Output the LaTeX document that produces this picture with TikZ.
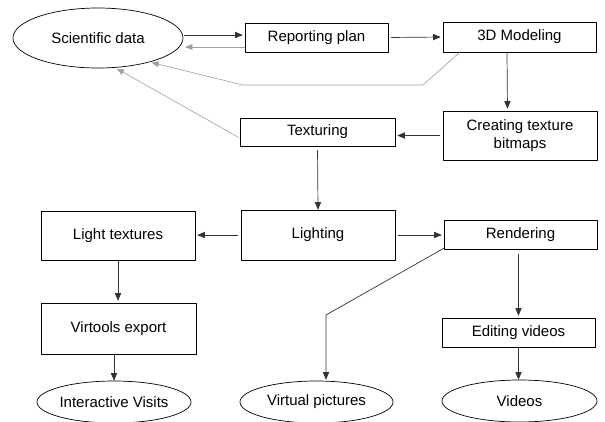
\documentclass[tikz,border=0pt]{standalone}
\usepackage{fontspec}
\setmainfont{Liberation Sans}
\usetikzlibrary{arrows}
\usetikzlibrary{shapes.geometric}

\begin{document}
\begin{tikzpicture}[line cap=round,line join=round,>=triangle 45,x=1pt,y=1pt,
  box/.style={draw,line width=0.7pt,inner sep=0pt,align=center,font=\fontsize{15}{18}\selectfont},
  oval/.style={draw,ellipse,line width=0.7pt,inner sep=0pt,font=\fontsize{15}{18}\selectfont},
  flow/.style={->,line width=0.7pt,color=black!80,shorten <=3pt,shorten >=2pt},
  back/.style={->,line width=0.6pt,color=gray!75,shorten <=2pt,shorten >=2pt}]
\useasboundingbox (0,0) rectangle (605,-421);

%ellipsit
\node [oval,minimum width=170,minimum height=60] (sci) at (98,-38) {Scientific data};
\node [oval,minimum width=154,minimum height=42] (visits) at (114,-402) {Interactive Visits};
\node [oval,minimum width=153,minimum height=42] (virtual) at (316.5,-402) {Virtual pictures};
\node [oval,minimum width=155,minimum height=42] (videos) at (519.5,-401) {Videos};

%laatikot
\node [box,minimum width=143,minimum height=29] (plan) at (316.5,-37.5) {Reporting plan};
\node [box,minimum width=153,minimum height=30] (model) at (519.5,-37) {3D Modeling};
\node [box,minimum width=154,minimum height=49] (bitmaps) at (520,-135.5) {Creating texture\\bitmaps};
\node [box,minimum width=155,minimum height=28] (texturing) at (317.5,-132) {Texturing};
\node [box,minimum width=154,minimum height=50] (lighting) at (318,-235) {Lighting};
\node [box,minimum width=154,minimum height=49] (lighttex) at (118,-235.5) {Light textures};
\node [box,minimum width=153,minimum height=29] (rendering) at (520.5,-234.5) {Rendering};
\node [box,minimum width=155,minimum height=51] (virtools) at (118.5,-328.5) {Virtools export};
\node [box,minimum width=153,minimum height=29] (editing) at (518.5,-332.5) {Editing videos};

%mutkat
\coordinate (m1) at (423,-85);
\coordinate (m2) at (243,-85);
\coordinate (r1) at (326,-315);

%nuolet
\draw [flow,shorten <=1pt] ([yshift=3pt]sci.east) -- ([yshift=2.5pt]plan.west);
\draw [back,shorten <=0pt] (plan.west |- 0,-47) -- (sci.east |- 0,-47);
\draw [flow] (plan.east) -- (model.west);
\draw [back,shorten <=0pt] ([xshift=17pt]model.south west) -- (m1) -- (m2) -- (sci.-25);
\draw [flow,shorten <=0pt] ([xshift=-12.5pt]model.south) -- ([xshift=-12.5pt]bitmaps.north);
\draw [flow] (bitmaps.west) -- (bitmaps.west -| texturing.east);
\draw [back,shorten <=1pt] ([yshift=-6pt]texturing.west) -- (sci.-60);
\draw [flow,shorten <=4pt,shorten >=0pt] (texturing.south) -- (lighting.north);
\draw [flow] (lighting.west) -- (lighting.west -| lighttex.east);
\draw [flow] (lighting.east) -- (lighting.east -| rendering.west);
\draw [flow,shorten <=0pt] (lighttex.south) -- (lighttex.south |- virtools.north);
\draw [flow,shorten <=0pt,shorten >=0pt] (visits.north |- virtools.south) -- (visits.north);
\draw [flow,shorten <=0pt,shorten >=1pt] ([yshift=1pt]rendering.south west) -- (r1) -- (r1 |- virtual.north);
\draw [flow,shorten <=5pt] ([xshift=-2pt]rendering.south) -- ([xshift=0pt]editing.north);
\draw [flow,shorten <=0pt,shorten >=0pt] (editing.south) -- (editing.south |- videos.north);
\end{tikzpicture}
\end{document}
